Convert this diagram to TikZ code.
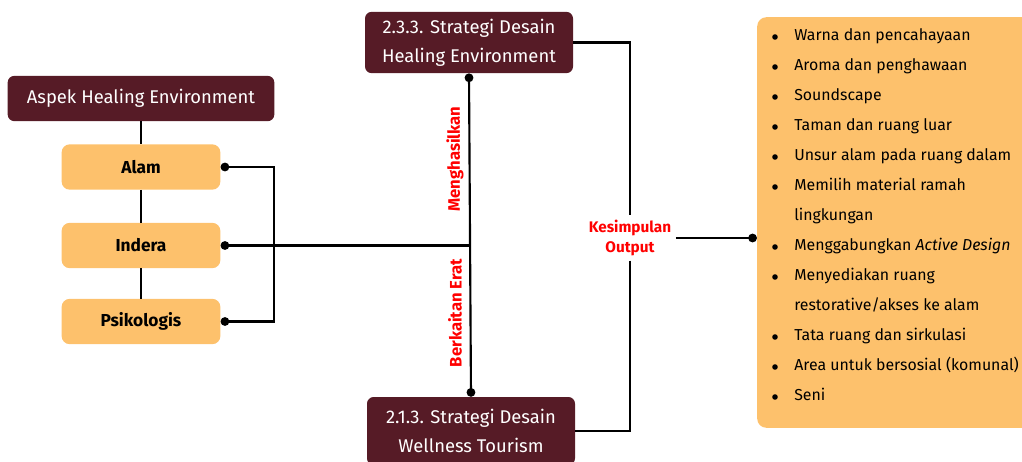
\documentclass[tikz,border=0pt]{standalone}
\usepackage{fontspec}
\setmainfont{Fira Sans}
\usetikzlibrary{arrows.meta}
\definecolor{maroon}{HTML}{561B26}
\definecolor{sand}{HTML}{FDC16C}
\definecolor{redlabel}{HTML}{FF0000}

\begin{document}
\begin{tikzpicture}[x=0.75pt,y=-0.75pt,
  darkbox/.style={fill=maroon,text=white,rounded corners=5pt,align=center,font=\fontsize{13.8}{22}\selectfont},
  lightbox/.style={fill=sand,rounded corners=6pt,minimum width=119pt,minimum height=34pt,font=\fontsize{13}{15}\selectfont\bfseries},
  redtext/.style={text=redlabel,font=\fontsize{11.5}{15}\selectfont\bfseries},
  link/.style={line width=1.6pt},
  dot/.style={{Circle[length=6.5pt]}-},
  dots/.style={{Circle[length=6.5pt]}-{Circle[length=6.5pt]}}]
  \useasboundingbox (0,0) rectangle (1022,461);
  \clip (0,0) rectangle (1022,461);
  \node[darkbox,minimum width=200pt,minimum height=34pt,font=\fontsize{13.8}{15}\selectfont] (asp) at (141,98.5) {Aspek Healing Environment};
  \node[lightbox] (alam) at (141,167) {Alam};
  \node[lightbox] (ind) at (141,245.5) {Indera};
  \node[lightbox] (psi) at (141,321.5) {Psikologis};
  \node[darkbox,minimum width=156pt,minimum height=46pt] (top) at (469,42.5) {2.3.3. Strategi Desain\\Healing Environment};
  \node[darkbox,minimum width=156pt,minimum height=51pt] (bot) at (471,431) {2.1.3. Strategi Desain\\Wellness Tourism};
  \node[redtext,align=center] (kes) at (630,238) {Kesimpulan\\Output};
  \node[redtext,rotate=90,font=\fontsize{12.5}{15}\selectfont\bfseries] (hasil) at (455,159) {Menghasilkan};
  \node[redtext,rotate=90,font=\fontsize{12.5}{15}\selectfont\bfseries] (erat) at (455,313) {Berkaitan Erat};
  \node[fill=sand,rounded corners=7pt,minimum width=212pt,minimum height=308pt] (list) at (898.5,222.5) {};
  \foreach \b/\txt [count=\k from 0] in {1/Warna dan pencahayaan,1/Aroma dan penghawaan,1/Soundscape,1/Taman dan ruang luar,1/Unsur alam pada ruang dalam,1/Memilih material ramah,0/lingkungan,1/{Menggabungkan \textit{Active Design}},1/Menyediakan ruang,0/{restorative/akses ke alam},1/Tata ruang dan sirkulasi,1/Area untuk bersosial (komunal),1/Seni}{
    \node[anchor=west,inner sep=0pt,text height=1.6ex,text depth=0.3ex,font=\fontsize{11.9}{14}\selectfont] (item\k) at (794,36+30*\k) {\txt};
    \ifnum\b=1 \fill (775,37+30*\k) circle (2.8); \fi
  }
  \draw[link] (asp) -- (alam);
  \draw[link] (alam) -- (ind);
  \draw[link] (ind) -- (psi);
  \draw[link,dots] (alam.east) -- ++(53,0) |- (psi.east);
  \draw[link,dot] (ind.east) -- (ind.east -| top.south);
  \draw[link,dots] (top.south) -- (bot.north);
  \draw[link] (top.east) -| (kes.north);
  \draw[link] (kes.south) |- (bot.east);
  \draw[link,-{Circle[length=6.5pt]}] (kes.east) -- (kes.east -| list.west);
\end{tikzpicture}
\end{document}
